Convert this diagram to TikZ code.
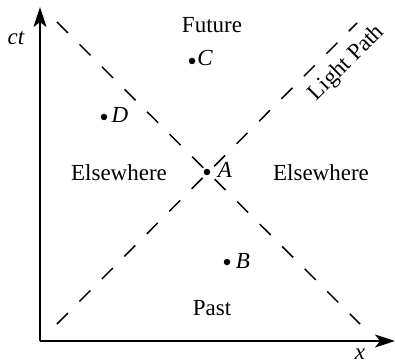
\documentclass[tikz,border=0pt]{standalone}
\usepackage{fontspec}
\setmainfont{Liberation Serif}
\usetikzlibrary{arrows.meta}
\begin{document}
\begin{tikzpicture}[x=1pt,y=1pt,
  axis/.style={line width=1.8pt,-{Stealth[length=20pt,width=13pt,inset=5pt]}},
  light/.style={line width=1.5pt,dash pattern=on 15.5pt off 16.3pt},
  dot/.style={circle,fill=black,inner sep=0pt,minimum size=6.5pt},
  lbl/.style={inner sep=0pt,anchor=base,font=\fontsize{23}{27}\selectfont},
  ilbl/.style={lbl,font=\fontsize{23}{27}\selectfont\itshape}]
\useasboundingbox (0,0) rectangle (395,-363);
\coordinate (O) at (40,-341);
\coordinate (Ytip) at (40,-7);
\coordinate (Xtip) at (395,-341);
\draw[axis] (O) -- (Ytip);
\draw[axis] (O) -- (Xtip);
\coordinate (L1a) at (57,-22);
\coordinate (L1b) at (360,-324);
\coordinate (L2a) at (57,-324);
\coordinate (L2b) at (357,-23);
\draw[light] (L1a) -- (L1b);
\draw[light] (L2a) -- (L2b);
\node[dot] (A) at (207,-172) {};
\node[dot] (B) at (227,-262) {};
\node[dot] (C) at (192,-61) {};
\node[dot] (D) at (104,-117) {};
\node[ilbl] (Alab) at (225,-178) {A};
\node[ilbl] (Blab) at (243,-268) {B};
\node[ilbl] (Clab) at (205,-66) {C};
\node[ilbl] (Dlab) at (120,-123) {D};
\node[ilbl] (ct) at (16,-45) {ct};
\node[ilbl] (xl) at (360,-359) {x};
\node[lbl] (fut) at (212,-33) {Future};
\node[lbl] (elL) at (119,-180) {Elsewhere};
\node[lbl] (elR) at (321,-180) {Elsewhere};
\node[lbl] (past) at (212,-315) {Past};
\node[lbl,rotate=45] (lp) at (351,-67) {Light Path};
\end{tikzpicture}
\end{document}
